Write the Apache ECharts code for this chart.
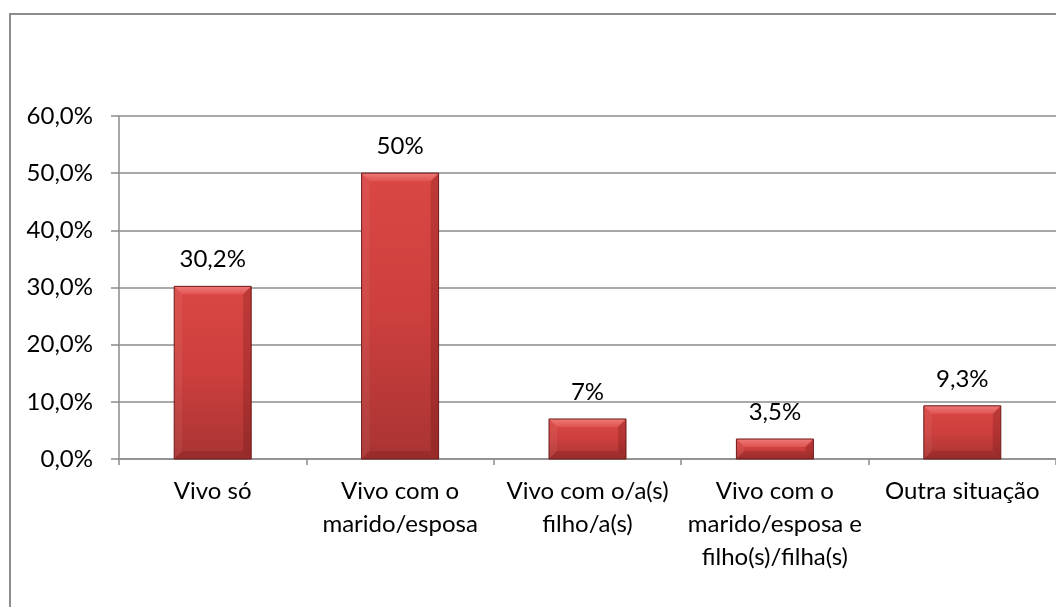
<!DOCTYPE html>
<html>
<head>
<meta charset="utf-8">
<script src="https://cdn.jsdelivr.net/npm/echarts@6/dist/echarts.min.js"></script>
<style>
html,body{margin:0;padding:0;background:#fff;}
#c{width:1056px;height:607px;}
</style>
</head>
<body>
<div id="c"></div>
<script>
const categories = ["Vivo só", "Vivo com o\nmarido/esposa", "Vivo com o/a(s)\nfilho/a(s)", "Vivo com o\nmarido/esposa e\nfilho(s)/filha(s)", "Outra situação"];
const values = [30.2, 50, 7, 3.5, 9.3];
const valueLabels = ["30,2%", "50%", "7%", "3,5%", "9,3%"];
const yTicks = [0, 10, 20, 30, 40, 50, 60];

const FONT = "Lato";
const FS = 24;
const BAR_W = 77;
const chart = echarts.init(document.getElementById('c'));

function bevel(params, api) {
  const i = api.value(0);
  const v = api.value(1);
  const top = api.coord([i, v]);
  const base = api.coord([i, 0]);
  const x0 = top[0] - BAR_W / 2, x1 = top[0] + BAR_W / 2;
  const y0 = top[1], y1 = base[1];
  const b = Math.min(8, (y1 - y0) / 2);
  return {
    type: 'group',
    silent: true,
    children: [
      {type: 'polygon', shape: {points: [[x0, y0], [x1, y0], [x1 - b, y0 + b], [x0 + b, y0 + b]]},
       style: {fill: new echarts.graphic.LinearGradient(0, 0, 0, 1, [{offset: 0, color: '#ee7a77'}, {offset: 1, color: '#df5451'}])}},
      {type: 'polygon', shape: {points: [[x0, y0], [x0 + b, y0 + b], [x0 + b, y1 - b], [x0, y1]]},
       style: {fill: 'rgba(255,255,255,0.06)'}},
      {type: 'polygon', shape: {points: [[x1, y0], [x1, y1], [x1 - b, y1 - b], [x1 - b, y0 + b]]},
       style: {fill: 'rgba(60,0,0,0.18)'}},
      {type: 'polygon', shape: {points: [[x0, y1], [x1, y1], [x1 - b, y1 - b], [x0 + b, y1 - b]]},
       style: {fill: 'rgba(60,0,0,0.14)'}},
      {type: 'rect', shape: {x: x0, y: y0, width: BAR_W, height: y1 - y0},
       style: {fill: 'none', stroke: '#6e1a1a', lineWidth: 1}}
    ]
  };
}

chart.setOption({
  animation: false,
  backgroundColor: '#fff',
  graphic: [{
    type: 'rect',
    shape: {x: 10, y: 14, width: 1100, height: 700},
    style: {fill: 'none', stroke: '#8c8c8c', lineWidth: 2},
    silent: true
  }],
  grid: {left: 119, top: 116, width: 940, height: 343, containLabel: false},
  xAxis: {
    type: 'category',
    data: categories,
    axisLine: {lineStyle: {color: '#8c8c8c', width: 1.5}},
    axisTick: {show: true, length: 6, alignWithLabel: false, lineStyle: {color: '#8c8c8c', width: 1.5}},
    axisLabel: {fontFamily: FONT, fontSize: FS, color: '#000', lineHeight: 33, margin: 16, interval: 0}
  },
  yAxis: {
    type: 'value',
    min: 0, max: 60, interval: 10,
    axisLine: {show: true, lineStyle: {color: '#8c8c8c', width: 1.5}},
    axisTick: {show: true, length: 8, lineStyle: {color: '#8c8c8c', width: 1.5}},
    splitLine: {show: true, lineStyle: {color: '#8c8c8c', width: 1.5}},
    axisLabel: {
      fontFamily: FONT, fontSize: FS, color: '#000', margin: 26,
      formatter: v => yTicks.includes(v) ? v.toFixed(1).replace('.', ',') + '%' : ''
    }
  },
  series: [{
    type: 'bar',
    data: values,
    barWidth: BAR_W,
    itemStyle: {
      color: new echarts.graphic.LinearGradient(0, 0, 0, 1, [
        {offset: 0, color: '#da4744'},
        {offset: 0.5, color: '#cc3f3d'},
        {offset: 1, color: '#a93433'}
      ])
    },
    label: {
      show: true, position: 'top', distance: 15,
      fontFamily: FONT, fontSize: FS, color: '#000',
      formatter: p => valueLabels[p.dataIndex]
    }
  }, {
    type: 'custom',
    renderItem: bevel,
    data: values.map((v, i) => [i, v]),
    encode: {x: 0, y: 1},
    z: 3
  }]
});
</script>
</body>
</html>
